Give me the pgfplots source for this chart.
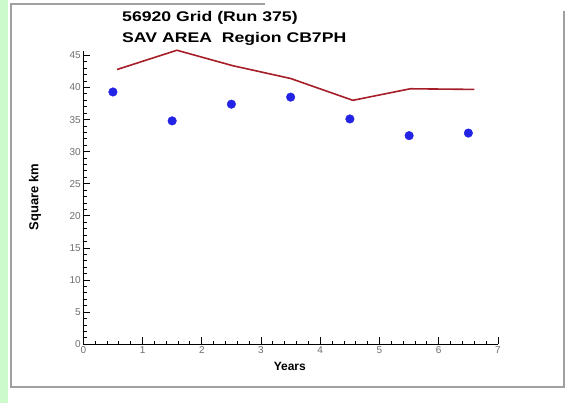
\documentclass[border=0pt]{standalone}
\usepackage{fontspec}
\setmainfont{Liberation Sans}
\newfontfamily\widefont{Liberation Sans}[FakeStretch=1.26]
\usepackage{pgfplots}
\pgfplotsset{compat=1.18}
\definecolor{linered}{RGB}{165,30,40}
\definecolor{dotblue}{RGB}{35,35,230}
\definecolor{stripgreen}{RGB}{205,250,205}
\definecolor{framegray}{RGB}{160,160,160}
\definecolor{tickgray}{RGB}{110,110,110}

\begin{document}
\begin{tikzpicture}[x=1pt,y=1pt]
  % page and frame
  \fill[white] (0,0) rectangle (571,403);
  \fill[stripgreen] (0,0) rectangle (8,403);
  \draw[framegray, line width=1.2pt] (265,399) -- (11,399) -- (11,16) -- (564,16) -- (564,392);

  \begin{axis}[
      at={(83.3pt,58.7pt)}, anchor=south west,
      scale only axis,
      width=414.7pt, height=293.4pt,
      xmin=0, xmax=7, ymin=0, ymax=45.7,
      axis x line*=bottom, axis y line*=left,
      axis line style={line width=1.3pt, -},
      xtick distance=1, ytick distance=5,
      minor x tick num=4, minor y tick num=4,
      tick align=inside,
      major tick length=7pt, minor tick length=3.5pt,
      every tick/.style={black, line width=0.9pt},
      tick label style={font=\fontsize{10}{11}\selectfont, text=tickgray},
      /pgf/number format/assume math mode=true,
      xticklabel style={yshift=1pt},
      yticklabel style={xshift=1pt},
      xlabel={\bfseries Years},
      xlabel style={font=\fontsize{12}{14}\selectfont, at={(axis description cs:0.498,-0.074)}, anchor=center},
      ylabel={\bfseries Square km},
      ylabel style={font=\fontsize{13}{15}\selectfont, at={(axis description cs:-0.1165,0.502)}, anchor=center, rotate=0},
      clip=false,
    ]
    % model result
    \addplot[linered, line width=1.6pt] coordinates {
      (0.57,42.8) (1.58,45.8) (2.52,43.4) (3.5,41.4) (4.55,38.0) (5.52,39.8) (6.6,39.7)
    };
    % observations
    \addplot[only marks, mark=*, mark size=4.3pt, dotblue, mark options={draw=dotblue, fill=dotblue}] coordinates {
      (0.5,39.3) (1.5,34.8) (2.5,37.4) (3.5,38.5) (4.5,35.1) (5.5,32.5) (6.5,32.9)
    };
  \end{axis}

  % title
  \node[anchor=base west, inner sep=0pt, font=\widefont\bfseries\fontsize{14}{16}\selectfont] at (122,381.5) {56920 Grid (Run 375)};
  \node[anchor=base west, inner sep=0pt, font=\widefont\bfseries\fontsize{14}{16}\selectfont] at (122,360) {SAV AREA\ \ Region CB7PH};
\end{tikzpicture}
\end{document}
